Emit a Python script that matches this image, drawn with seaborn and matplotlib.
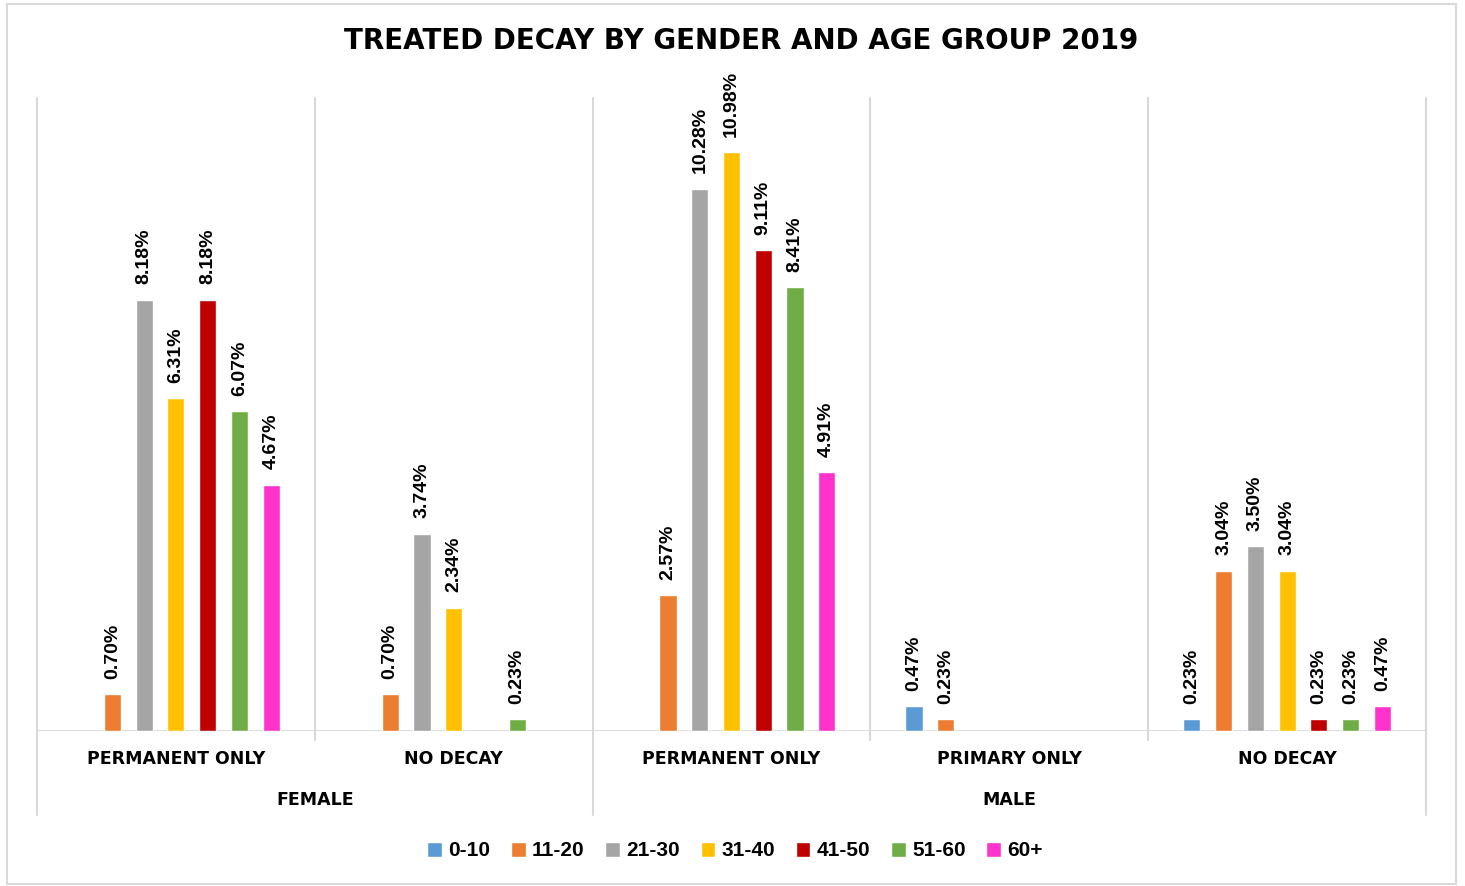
import numpy as np
import pandas as pd
import matplotlib
matplotlib.use('Agg')
import matplotlib.pyplot as plt
import matplotlib.transforms as mtransforms
from matplotlib.patches import Rectangle
import seaborn as sns

# data (percent), NaN = no bar
genders = ['FEMALE', 'FEMALE', 'MALE', 'MALE', 'MALE']
conditions = ['PERMANENT ONLY', 'NO DECAY', 'PERMANENT ONLY', 'PRIMARY ONLY', 'NO DECAY']
ages = ['0-10', '11-20', '21-30', '31-40', '41-50', '51-60', '60+']
age_0_10 = [np.nan, np.nan, np.nan, 0.47, 0.23]
age_11_20 = [0.70, 0.70, 2.57, 0.23, 3.04]
age_21_30 = [8.18, 3.74, 10.28, np.nan, 3.50]
age_31_40 = [6.31, 2.34, 10.98, np.nan, 3.04]
age_41_50 = [8.18, np.nan, 9.11, np.nan, 0.23]
age_51_60 = [6.07, 0.23, 8.41, np.nan, 0.23]
age_60_plus = [4.67, np.nan, 4.91, np.nan, 0.47]
colors = ['#5B9BD5', '#ED7D31', '#A5A5A5', '#FFC000', '#C00000', '#70AD47', '#FF33CC']

keys = [g + '|' + c for g, c in zip(genders, conditions)]
series = [age_0_10, age_11_20, age_21_30, age_31_40, age_41_50, age_51_60, age_60_plus]
rows = []
for age, vals in zip(ages, series):
    for k, v in zip(keys, vals):
        rows.append({'key': k, 'age': age, 'value': v})
df = pd.DataFrame(rows).dropna()

sns.set_style('white')
plt.rcParams['font.family'] = ['Liberation Sans', 'DejaVu Sans']
plt.rcParams['font.weight'] = 'bold'
plt.rcParams['text.color'] = 'black'

fig = plt.figure(figsize=(14.65, 8.86), dpi=100)
ax = fig.add_axes([37 / 1465, 1 - 731 / 886, (1426 - 37) / 1465, (731 - 98) / 886])
sns.barplot(data=df, x='key', y='value', hue='age', order=keys, hue_order=ages,
            palette=colors, saturation=1, width=0.8, gap=0.46, errorbar=None, ax=ax)

handles, labels = ax.get_legend_handles_labels()
ax.get_legend().remove()

for cont in ax.containers:
    ax.bar_label(cont, labels=[f'{v:.2f}%' for v in cont.datavalues], rotation=90,
                 padding=11, fontsize=14, fontweight='bold', color='black')

ax.set_xlim(-0.5, 4.5)
ax.set_ylim(0, 12)
ax.set_xticks([])
ax.set_yticks([])
ax.set_xlabel('')
ax.set_ylabel('')
for s in ax.spines.values():
    s.set_visible(False)

grid = '#D9D9D9'
trans = mtransforms.blended_transform_factory(ax.transData, ax.transAxes)
ax.axhline(0, color=grid, lw=2, zorder=0)
for x in [0.5, 2.5, 3.5]:
    ax.plot([x, x], [-0.014, 1], color=grid, lw=1.5, transform=trans, clip_on=False, zorder=0)
for x in [-0.5, 1.5, 4.5]:
    ax.plot([x, x], [-0.133, 1], color=grid, lw=1.5, transform=trans, clip_on=False, zorder=0)

for i, c in enumerate(conditions):
    ax.text(i, -0.044, c, transform=trans, ha='center', va='center', color='black',
            fontsize=12.5, fontweight='bold', family='DejaVu Sans')
ax.text(0.5, -0.109, 'FEMALE', transform=trans, ha='center', va='center', color='black',
        fontsize=12.5, fontweight='bold', family='DejaVu Sans')
ax.text(3, -0.109, 'MALE', transform=trans, ha='center', va='center', color='black',
        fontsize=12.5, fontweight='bold', family='DejaVu Sans')

fig.text(741 / 1465, 1 - 41 / 886, 'TREATED DECAY BY GENDER AND AGE GROUP 2019',
         ha='center', va='center', fontsize=20, fontweight='bold', family='DejaVu Sans',
         color='black')

leg = fig.legend(handles, labels, loc='center', bbox_to_anchor=(735 / 1465, 1 - 851 / 886),
                 ncol=7, frameon=False, handlelength=0.7, handleheight=0.7,
                 handletextpad=0.3, columnspacing=1.0, prop={'weight': 'bold', 'size': 15})
for t in leg.get_texts():
    t.set_color('black')

fig.patches.append(Rectangle((7 / 1465, 2 / 886), 1449 / 1465, 880 / 886,
                             transform=fig.transFigure, fill=False, edgecolor=grid, lw=1.5))

fig.savefig('out.png', dpi=100)
